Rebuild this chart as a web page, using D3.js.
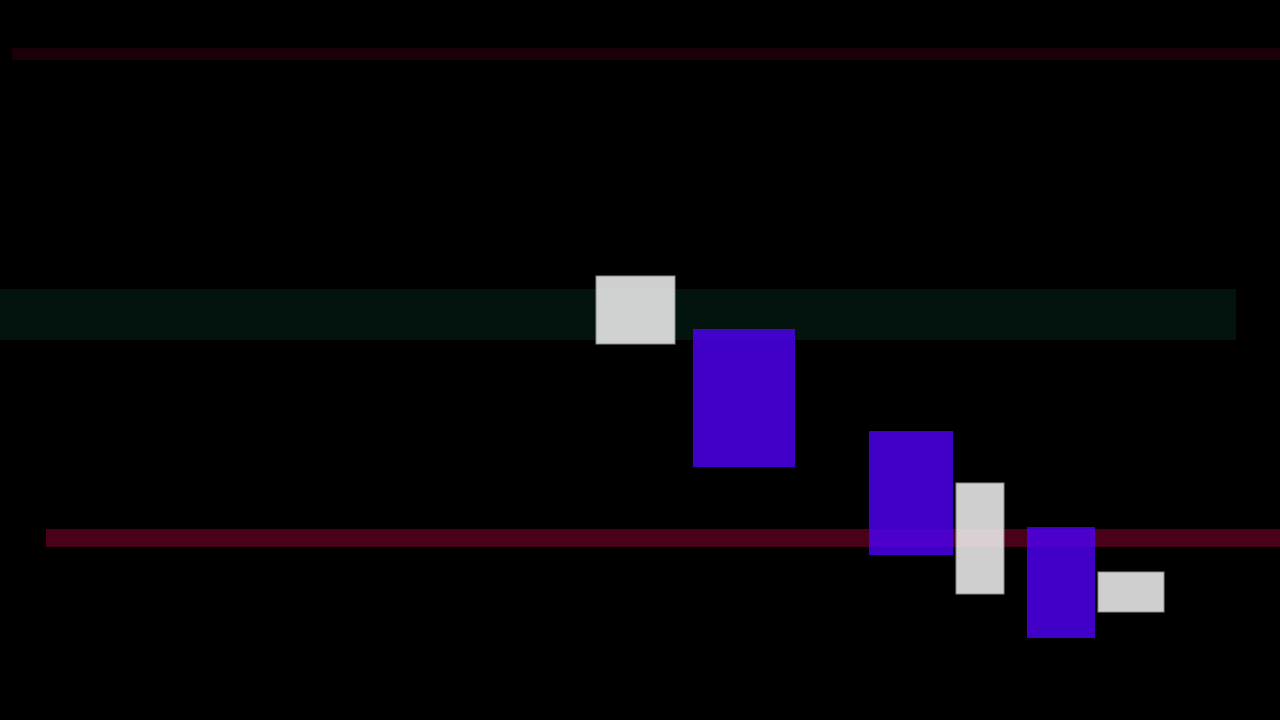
<!DOCTYPE html>
<html>
<head>
<meta charset="utf-8">
<script src="https://cdn.jsdelivr.net/npm/d3@7"></script>
<style>
  html, body { margin: 0; padding: 0; background: #000; }
  svg { display: block; }
</style>
</head>
<body>
<div class="chart"></div>
<script>
// horizontal bands: [start, end, low, high]
const bandNames = ["upper", "middle", "lower"];
const bandStart = [1.2, 0, 4.6];
const bandEnd = [128, 123.6, 128];
const bandLow = [66.0, 38.0, 17.3];
const bandHigh = [67.2, 43.1, 19.1];

// boxes, gray and blue
const grayStart = [59.6, 95.6, 109.8];
const grayEnd = [67.5, 100.4, 116.4];
const grayLow = [37.6, 12.6, 10.8];
const grayHigh = [44.4, 23.7, 14.8];

const blueStart = [69.3, 86.9, 102.7];
const blueEnd = [79.5, 95.3, 109.5];
const blueLow = [25.3, 16.5, 8.2];
const blueHigh = [39.1, 28.9, 19.3];

const width = 1280;
const height = 720;

const x = d3.scaleLinear().domain([0, 128]).range([0, width]);
const y = d3.scaleLinear().domain([0, 72]).range([height, 0]);

const svg = d3.select(".chart")
    .append("svg")
    .attr("width", width)
    .attr("height", height)
    .attr("viewBox", [0, 0, width, height]);

svg.append("rect")
    .attr("width", width)
    .attr("height", height)
    .attr("fill", "#000");

const bandColor = d3.scaleOrdinal()
    .domain(bandNames)
    .range(["#1c0009", "#03140e", "#4a0019"]);

const bands = bandNames.map((name, i) => ({
    name,
    start: bandStart[i],
    end: bandEnd[i],
    low: bandLow[i],
    high: bandHigh[i]
}));

svg.selectAll("rect.band")
    .data(bands)
    .join("rect")
    .attr("class", "band")
    .attr("x", d => x(d.start))
    .attr("width", d => x(d.end) - x(d.start))
    .attr("y", d => y(d.high))
    .attr("height", d => y(d.low) - y(d.high))
    .attr("fill", d => bandColor(d.name));

const boxes = [
    ...grayStart.map((s, i) => ({
        type: "gray", start: s, end: grayEnd[i], low: grayLow[i], high: grayHigh[i]
    })),
    ...blueStart.map((s, i) => ({
        type: "blue", start: s, end: blueEnd[i], low: blueLow[i], high: blueHigh[i]
    }))
];

svg.selectAll("rect.box")
    .data(boxes)
    .join("rect")
    .attr("class", "box")
    .attr("x", d => x(d.start))
    .attr("width", d => x(d.end) - x(d.start))
    .attr("y", d => y(d.high))
    .attr("height", d => y(d.low) - y(d.high))
    .attr("fill", d => d.type === "gray" ? "#f3f3f3" : "#4b00eb")
    .attr("fill-opacity", 0.85)
    .attr("stroke", d => d.type === "gray" ? "#8a8a8a" : "none")
    .attr("stroke-width", 1);
</script>
</body>
</html>
